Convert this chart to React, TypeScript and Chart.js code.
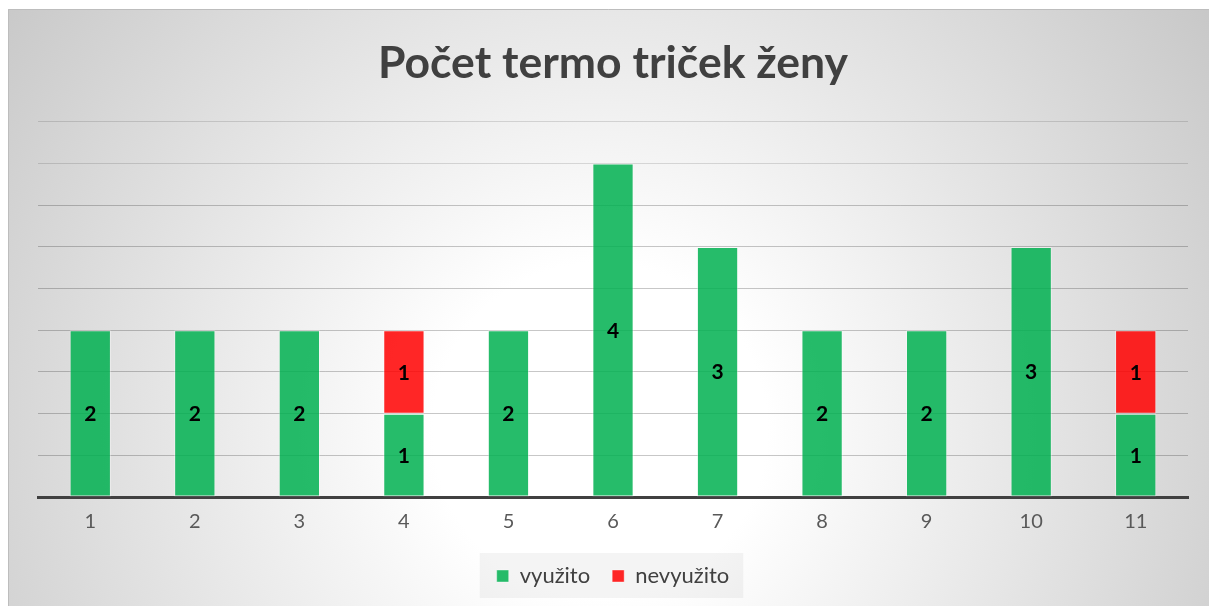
import React, { useEffect, useRef } from "react";
import { Chart, registerables } from "chart.js";

Chart.register(...registerables);

const TITLE = "Počet termo triček ženy";
const categories = ["1", "2", "3", "4", "5", "6", "7", "8", "9", "10", "11"];
const usedLabel = "využito";
const unusedLabel = "nevyužito";
const usedValues = [2, 2, 2, 1, 2, 4, 3, 2, 2, 3, 1];
const unusedValues = [0, 0, 0, 1, 0, 0, 0, 0, 0, 0, 1];
const yMin = 0;
const yMax = 4.5;
const yStep = 0.5;

const W = 1201;
const H = 597;
const FONT = "Lato, 'Open Sans', sans-serif";

const backgroundPlugin = {
  id: "bgPlugin",
  beforeDraw(chart: any) {
    const ctx = chart.ctx;
    ctx.save();
    const g = ctx.createRadialGradient(592, 421, 0, 592, 421, 760);
    g.addColorStop(0, "#ffffff");
    g.addColorStop(0.22, "#ffffff");
    g.addColorStop(1, "#c6c6c6");
    ctx.fillStyle = g;
    ctx.fillRect(0, 0, chart.width, chart.height);
    ctx.strokeStyle = "#bdbdbd";
    ctx.lineWidth = 1;
    ctx.beginPath();
    ctx.moveTo(0.5, chart.height);
    ctx.lineTo(0.5, 0.5);
    ctx.lineTo(chart.width, 0.5);
    ctx.stroke();
    // legend background
    const lg = chart.legend;
    if (lg && lg.legendHitBoxes && lg.legendHitBoxes.length) {
      const boxes = lg.legendHitBoxes;
      let l = Infinity, r = -Infinity, cy = 0;
      boxes.forEach((b: any) => {
        l = Math.min(l, b.left);
        r = Math.max(r, b.left + b.width);
        cy = b.top + b.height / 2;
      });
      ctx.fillStyle = "rgba(0,0,0,0.045)";
      ctx.fillRect(l - 17, cy - 23, r - l + 31, 45);
    }
    ctx.restore();
  },
};

const labelPlugin = {
  id: "barLabels",
  afterDatasetsDraw(chart: any) {
    const ctx = chart.ctx;
    ctx.save();
    ctx.font = `bold 21px ${FONT}`;
    ctx.fillStyle = "#000000";
    ctx.textAlign = "center";
    ctx.textBaseline = "middle";
    chart.data.datasets.forEach((ds: any, di: number) => {
      const meta = chart.getDatasetMeta(di);
      meta.data.forEach((bar: any, i: number) => {
        const v = ds.data[i];
        if (!v) return;
        ctx.fillText(String(v), bar.x, (bar.y + bar.base) / 2 + 1);
      });
    });
    ctx.restore();
  },
};

export default function App() {
  const ref = useRef<HTMLCanvasElement>(null);
  useEffect(() => {
    if (!ref.current) return;
    const chart = new Chart(ref.current, {
      type: "bar",
      data: {
        labels: categories,
        datasets: [
          {
            label: usedLabel,
            data: usedValues,
            backgroundColor: "rgba(0,176,80,0.85)",
            borderColor: "rgba(255,255,255,0.4)",
            borderWidth: 1,
            borderSkipped: false,
            barPercentage: 0.395,
            categoryPercentage: 1,
          },
          {
            label: unusedLabel,
            data: unusedValues,
            backgroundColor: "rgba(255,0,0,0.85)",
            borderColor: "rgba(255,255,255,0.4)",
            borderWidth: 1,
            borderSkipped: false,
            barPercentage: 0.395,
            categoryPercentage: 1,
          },
        ],
      },
      options: {
        responsive: false,
        animation: false,
        layout: { padding: { left: 30, right: 21, top: 0, bottom: 9 } },
        plugins: {
          title: {
            display: true,
            text: TITLE,
            color: "#404040",
            font: { family: FONT, size: 44.5, weight: "bold", lineHeight: 1.2 },
            padding: { top: 28, bottom: 31.5 },
          },
          legend: {
            display: true,
            position: "bottom",
            labels: {
              color: "#404040",
              font: { family: FONT, size: 22 },
              boxWidth: 12,
              boxHeight: 12,
              padding: 22,
            },
          },
          tooltip: { enabled: false },
        },
        scales: {
          x: {
            stacked: true,
            grid: { display: false, drawTicks: false },
            border: { display: true, color: "#404040", width: 3 },
            ticks: {
              color: "#595959",
              font: { family: FONT, size: 20 },
              padding: 13,
            },
            afterFit(scale: any) {
              scale.height = 46;
            },
          },
          y: {
            stacked: true,
            min: yMin,
            max: yMax,
            grid: {
              drawTicks: false,
              color: (c: any) =>
                c.tick && c.tick.value === 0
                  ? "rgba(0,0,0,0)"
                  : c.tick && c.tick.value >= 4
                  ? "rgba(0,0,0,0.13)"
                  : "rgba(0,0,0,0.22)",
              lineWidth: 1,
            },
            border: { display: false },
            ticks: { display: false, stepSize: yStep },
          },
        },
      },
      plugins: [backgroundPlugin, labelPlugin],
    });
    return () => chart.destroy();
  }, []);
  return (
    <div style={{ position: "absolute", left: 8, top: 9, width: W, height: H }}>
      <canvas ref={ref} width={W} height={H} style={{ display: "block" }} />
    </div>
  );
}
